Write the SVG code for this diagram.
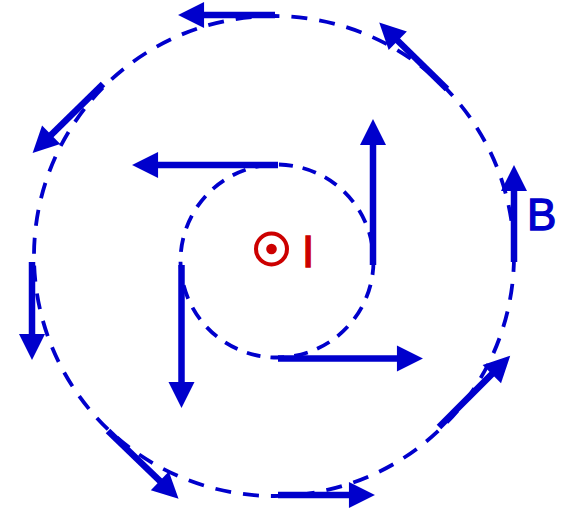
<svg xmlns="http://www.w3.org/2000/svg" width="565" height="509" viewBox="0 0 565 509">
<defs>
<style>
.ring{fill:none;stroke:#0000cc;stroke-width:3.8;stroke-dasharray:16 12}
.arr{stroke:#0000cc;stroke-width:6.5;fill:none;marker-end:url(#head)}
.lbl{font-family:"Liberation Sans",Arial,sans-serif;font-size:44px;stroke-width:1.3}
</style>
<marker id="head" markerUnits="userSpaceOnUse" markerWidth="26" markerHeight="26" viewBox="0 -12 24 24" refX="1" refY="0" orient="auto" overflow="visible">
<path d="M0,-12 L24,0 L0,12 z" fill="#0000cc"/>
</marker>
</defs>
<rect width="565" height="509" fill="#ffffff"/>
<g id="outer-field-line">
<circle class="ring" cx="274" cy="256" r="240"/>
</g>
<g id="inner-field-line">
<circle class="ring" cx="277" cy="261" r="96.5" style="stroke-dasharray:14 10"/>
</g>
<g id="connectors">
<line class="arr" x1="275" y1="15" x2="203" y2="15"/>
<line class="arr" x1="447" y1="89" x2="397" y2="40"/>
<line class="arr" x1="514" y1="262" x2="514" y2="190"/>
<line class="arr" x1="439" y1="427" x2="492.6" y2="373.4"/>
<line class="arr" x1="278" y1="495" x2="350" y2="495"/>
<line class="arr" x1="108" y1="431" x2="160.6" y2="481.6"/>
<line class="arr" x1="32" y1="262" x2="32" y2="335"/>
<line class="arr" x1="103" y1="84" x2="50.4" y2="135.6"/>
<line class="arr" x1="278" y1="165" x2="157" y2="165"/>
<line class="arr" x1="373" y1="265" x2="373" y2="144"/>
<line class="arr" x1="278" y1="358.5" x2="398" y2="358.5"/>
<line class="arr" x1="181.5" y1="265" x2="181.5" y2="383"/>
</g>
<g id="current">
<circle cx="271.5" cy="249" r="15.5" fill="none" stroke="#cc0000" stroke-width="4"/>
<circle cx="271.5" cy="249" r="5.3" fill="#cc0000"/>
<text class="lbl" x="302" y="267" fill="#cc0000" stroke="#cc0000">I</text>
</g>
<g id="label-B">
<text class="lbl" x="527" y="230" fill="#0000cc" stroke="#0000cc">B</text>
</g>
</svg>
